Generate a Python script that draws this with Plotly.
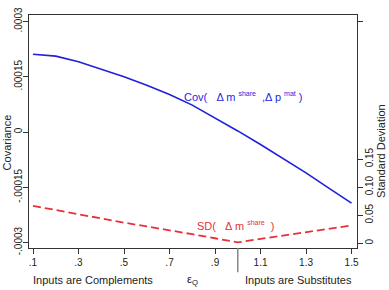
import plotly.graph_objects as go

eps = [0.1, 0.2, 0.3, 0.4, 0.5, 0.6, 0.7, 0.8, 0.9, 1.0, 1.1, 1.2, 1.3, 1.4, 1.5]
cov = [0.000211, 0.000206, 0.000191, 0.000171, 0.000150, 0.000127, 0.000102,
       0.0000730, 0.0000390, 0.0000030, -0.0000340, -0.0000720, -0.000111,
       -0.000152, -0.000193]
sd = [0.0666, 0.0588, 0.0512, 0.0438, 0.0366, 0.0298, 0.0233, 0.0160, 0.0088,
      0.0014, 0.0076, 0.0136, 0.0197, 0.0257, 0.0316]

x_ticks = [0.1, 0.3, 0.5, 0.7, 0.9, 1.1, 1.3, 1.5]
x_labels = [".1", ".3", ".5", ".7", ".9", "1.1", "1.3", "1.5"]
y_ticks = [-0.0003, -0.00015, 0, 0.00015, 0.0003]
y_labels = ["-.0003", "-.00015", "0", ".00015", ".0003"]
y2_ticks = [0, 0.05, 0.10, 0.15, 0.395]
y2_labels = ["0", "0.05", "0.10", "0.15", ""]

BLUE = "#1f1fe0"
RED = "#e8303a"
AX = "#333333"
FONT = "Liberation Sans, Arial, sans-serif"

fig = go.Figure()
fig.add_trace(go.Scatter(x=eps, y=cov, mode="lines", line=dict(color=BLUE, width=1.6),
                         yaxis="y", showlegend=False, hoverinfo="skip"))
fig.add_trace(go.Scatter(x=eps, y=sd, mode="lines", line=dict(color=RED, width=1.8, dash="8px,4px"),
                         yaxis="y2", showlegend=False, hoverinfo="skip"))

axis_common = dict(showgrid=False, zeroline=False, showline=True, linecolor=AX, linewidth=1,
                   ticks="outside", ticklen=5, tickcolor=AX, tickwidth=1,
                   ticklabeloverflow="allow",
                   tickfont=dict(family=FONT, size=10, color="#222"))

fig.update_layout(
    width=389, height=290,
    margin=dict(l=29, r=32, t=7, b=42),
    paper_bgcolor="white", plot_bgcolor="white",
    xaxis=dict(range=[0.0824, 1.524], tickvals=x_ticks, ticktext=x_labels, mirror=True, **axis_common),
    yaxis=dict(range=[-0.0003147, 0.0003176], tickvals=y_ticks, ticktext=y_labels, tickangle=-90,
               ticklabelstandoff=-3, **axis_common),
    yaxis2=dict(range=[-0.0086, 0.407], tickvals=y2_ticks, ticktext=y2_labels, tickangle=-90,
                overlaying="y", side="right", ticklabelstandoff=-2, **axis_common),
    font=dict(family=FONT),
)

def ann(text, x, y, color="#222", size=11, xanchor="center", angle=0):
    fig.add_annotation(text=text, x=x, y=y, xref="paper", yref="paper", showarrow=False,
                       xanchor=xanchor, yanchor="middle", textangle=angle,
                       font=dict(family=FONT, size=size, color=color))

ann("Covariance", -0.068, 0.452, angle=-90)
ann("Standard Deviation", 1.075, 0.415, angle=-90)
ann("Inputs are Complements", (93 - 29) / 328, -0.137)
ann("ε<sub>Q</sub>", (192 - 29) / 328, -0.137)
ann("Inputs are Substitutes", (298 - 29) / 328, -0.137)

sup = "<sup><span style='font-size:7px'>{}</span></sup>"
ann("Cov(   Δ m " + sup.format("share") + "  ,Δ p " + sup.format("mat") + " )",
    (182 - 29) / 328, (248 - 91) / 241, color=BLUE, size=11, xanchor="left")
ann("SD(   Δ m " + sup.format("share") + "  )",
    (195 - 29) / 328, (248 - 225) / 241, color=RED, size=11, xanchor="left")

fig.add_shape(type="line", xref="x", yref="paper", x0=1.0, x1=1.0, y0=0, y1=-0.104,
              line=dict(color="#888888", width=1.5))

fig.write_html("out.html")
